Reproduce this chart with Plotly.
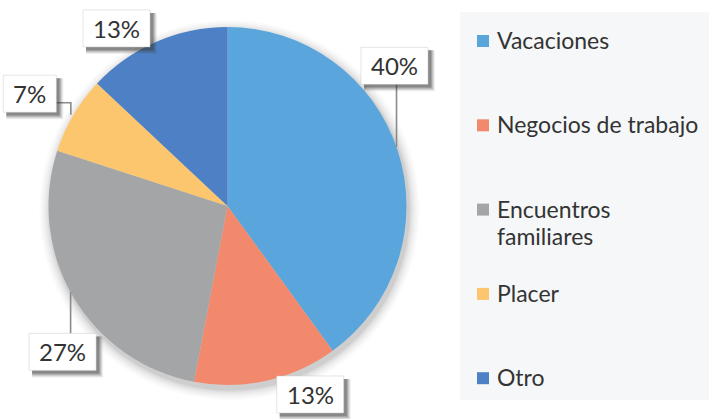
import math
import plotly.graph_objects as go

# Motivos de viaje (porcentaje)
labels = ["Vacaciones", "Negocios de trabajo", "Encuentros familiares", "Placer", "Otro"]
values = [40, 13, 27, 7, 13]
colors = ["#5AA6DC", "#F2896C", "#A3A5A7", "#FCC66E", "#4D80C4"]

# Placement of the percentage callouts: (angle clockwise from 12 o'clock, radius factor)
label_polar = [(50.0, 1.218), (156.3, 1.15), (228.5, 1.23), (299.6, 1.27), (328.0, 1.17)]
# Leader line per callout: None, ("v", x offset) or ("elbow", y offset, x offset, drop)
leaders = [("v", 2), None, ("v", 8), ("elbow", 9, 41, 12), None]

W, H = 709, 419
CX, CY, R = 227.5, 206.0, 179.0
FONT = "Lato"
TEXT = "#333333"


def px(x):
    return x / W


def py(y):
    return 1 - y / H


fig = go.Figure()
fig.add_trace(go.Pie(
    labels=labels,
    values=values,
    sort=False,
    direction="clockwise",
    rotation=0,
    marker=dict(colors=colors, line=dict(width=0)),
    textinfo="none",
    hoverinfo="label+percent",
    showlegend=False,
    domain=dict(x=[px(CX - R), px(CX + R)], y=[py(CY + R), py(CY - R)]),
))

shapes = []
annotations = []

# soft halo behind the pie
for grow, op in [(11, 0.025), (9, 0.035), (7, 0.045), (5, 0.055), (3, 0.07), (1.5, 0.09)]:
    ox, oy = 2, 4
    shapes.append(dict(
        type="circle", xref="paper", yref="paper", layer="below",
        x0=px(CX - R - grow + ox), x1=px(CX + R + grow + ox),
        y0=py(CY + R + grow + oy), y1=py(CY - R - grow + oy),
        fillcolor=f"rgba(90,90,90,{op})", line=dict(width=0),
    ))

# legend panel
shapes.append(dict(
    type="rect", xref="paper", yref="paper", layer="below",
    x0=px(460), x1=px(709), y0=py(400), y1=py(12),
    fillcolor="#F6F7F8", line=dict(width=0),
))

legend_top, legend_step, line_gap = 40.0, 84.3, 27.0


def wrap(text):
    return ["Encuentros", "familiares"] if text == "Encuentros familiares" else [text]


for i, (lab, col) in enumerate(zip(labels, colors)):
    y0 = legend_top + i * legend_step
    shapes.append(dict(
        type="rect", xref="paper", yref="paper", layer="above",
        x0=px(477), x1=px(489), y0=py(y0 + 7), y1=py(y0 - 5),
        fillcolor=col, line=dict(width=0),
    ))
    for j, line in enumerate(wrap(lab)):
        annotations.append(dict(
            xref="paper", yref="paper", x=px(495), y=py(y0 + j * line_gap),
            xanchor="left", yanchor="middle", showarrow=False, text=line,
            font=dict(family=FONT, size=23, color=TEXT),
        ))

# percentage callouts with drop-shadow boxes and leader lines
total = sum(values)
for i, v in enumerate(values):
    pct = f"{round(100 * v / total)}%"
    ang, rf = label_polar[i]
    a = math.radians(ang)
    lx = CX + rf * R * math.sin(a)
    ly = CY - rf * R * math.cos(a)
    bw = 25 + 14 * (len(pct) - 1) + 14
    bh = 37
    bx0, bx1 = lx - bw / 2, lx + bw / 2
    by0, by1 = ly - bh / 2, ly + bh / 2

    ld = leaders[i]
    if ld is not None:
        if ld[0] == "v":
            x = lx + ld[1]
            dy = math.sqrt(R * R - (x - CX) ** 2)
            if ly < CY:
                pts = [(x, by1), (x, CY - dy)]
            else:
                pts = [(x, by0), (x, CY + dy)]
        else:
            yline = ly + ld[1]
            x = lx + ld[2]
            pts = [(bx1, yline), (x, yline), (x, yline + ld[3])]
        path = "M " + " L ".join(f"{px(p[0])},{py(p[1])}" for p in pts)
        shapes.append(dict(type="path", xref="paper", yref="paper", layer="above",
                           path=path, line=dict(color="#8a8a8a", width=1.6)))

    for off, op in [(7, 0.08), (6, 0.12), (5, 0.16), (4, 0.22), (3, 0.26)]:
        shapes.append(dict(
            type="rect", xref="paper", yref="paper", layer="above",
            x0=px(bx0 + 3), x1=px(bx1 + off), y0=py(by1 + off), y1=py(by0 + 3),
            fillcolor=f"rgba(60,60,60,{op})", line=dict(width=0),
        ))
    shapes.append(dict(
        type="rect", xref="paper", yref="paper", layer="above",
        x0=px(bx0), x1=px(bx1), y0=py(by1), y1=py(by0),
        fillcolor="white", line=dict(color="rgba(200,200,200,0.6)", width=0.8),
    ))
    annotations.append(dict(
        xref="paper", yref="paper", x=px(lx), y=py(ly),
        xanchor="center", yanchor="middle", showarrow=False, text=pct,
        font=dict(family=FONT, size=24, color=TEXT),
    ))

fig.update_layout(
    width=W, height=H,
    margin=dict(l=0, r=0, t=0, b=0),
    paper_bgcolor="white", plot_bgcolor="white",
    shapes=shapes, annotations=annotations,
    showlegend=False,
)

fig.write_html("out.html")
